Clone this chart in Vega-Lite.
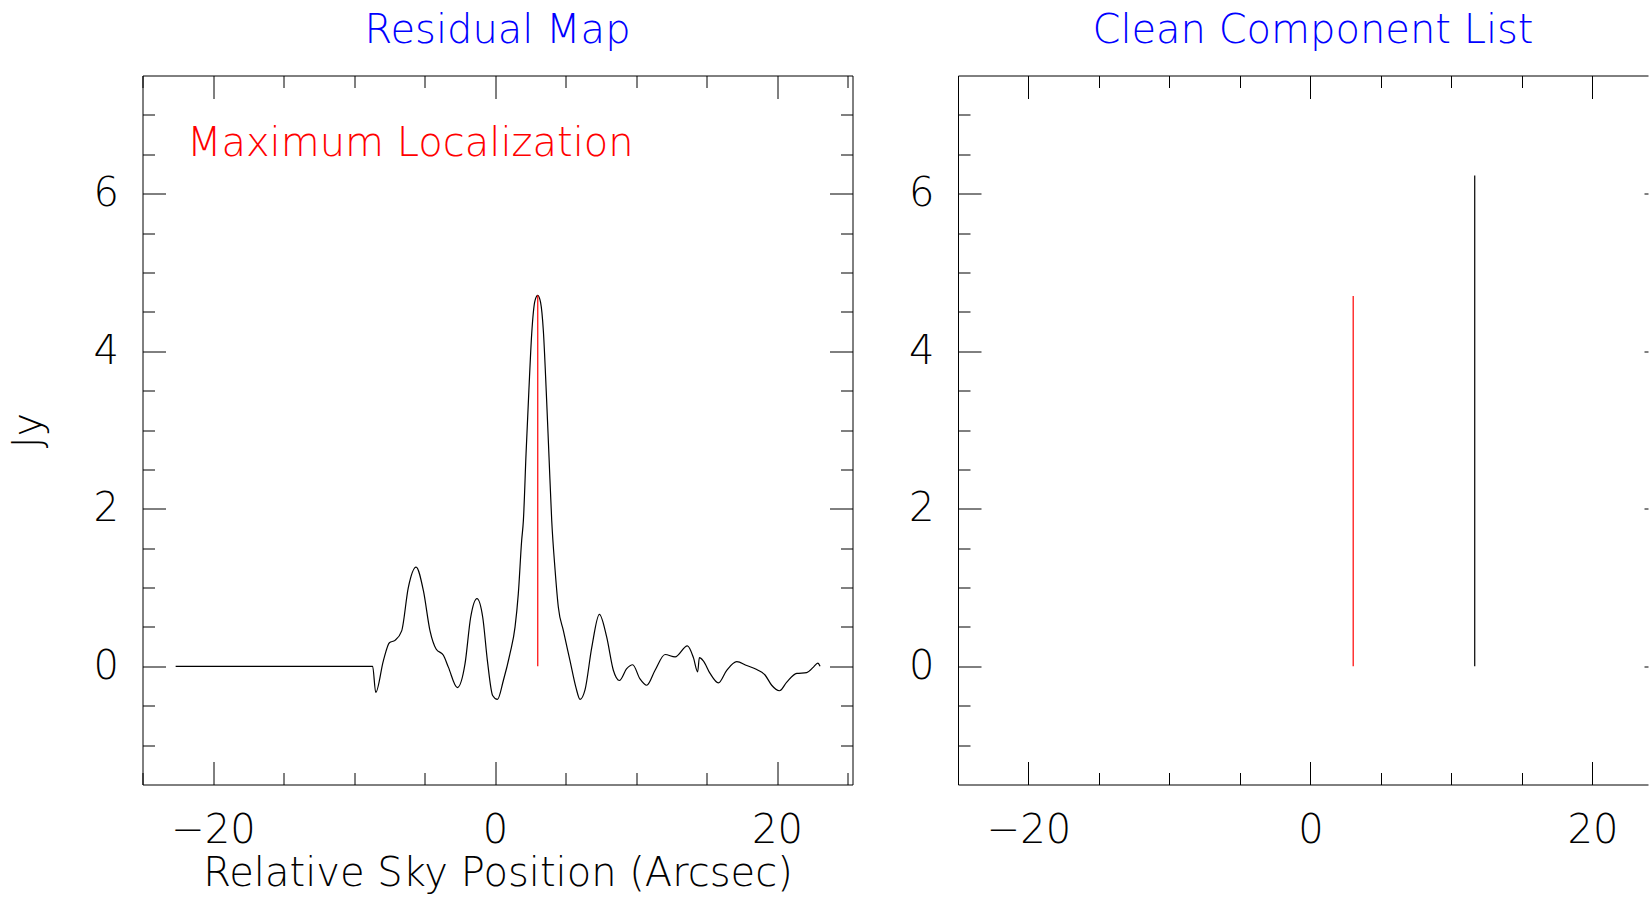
{
  "$schema": "https://vega.github.io/schema/vega-lite/v6.json",
  "background": "white",
  "padding": {"left": 7.5, "top": 10.5, "right": 0, "bottom": 0},
  "datasets": {
    "residual": [
      {"x": -22.65, "y": 0}, {"x": -8.68, "y": 0}, {"x": -8.46, "y": -0.33}, {"x": -7.92, "y": 0.07},
      {"x": -7.49, "y": 0.30}, {"x": -7.09, "y": 0.33}, {"x": -6.62, "y": 0.45}, {"x": -6.15, "y": 1.00},
      {"x": -5.60, "y": 1.26}, {"x": -5.08, "y": 0.96}, {"x": -4.61, "y": 0.45}, {"x": -4.18, "y": 0.22},
      {"x": -3.66, "y": 0.14}, {"x": -3.31, "y": -0.01}, {"x": -2.67, "y": -0.27}, {"x": -2.13, "y": 0.03},
      {"x": -1.73, "y": 0.62}, {"x": -1.28, "y": 0.86}, {"x": -0.87, "y": 0.62}, {"x": -0.54, "y": 0.07},
      {"x": -0.17, "y": -0.37}, {"x": 0.17, "y": -0.42}, {"x": 0.59, "y": -0.18}, {"x": 1.06, "y": 0.16},
      {"x": 1.42, "y": 0.50}, {"x": 1.65, "y": 0.92}, {"x": 1.89, "y": 1.60}, {"x": 2.01, "y": 1.85},
      {"x": 2.20, "y": 2.70}, {"x": 2.40, "y": 3.50}, {"x": 2.60, "y": 4.22}, {"x": 2.83, "y": 4.64},
      {"x": 3.03, "y": 4.71}, {"x": 3.23, "y": 4.62}, {"x": 3.43, "y": 4.25}, {"x": 3.63, "y": 3.50},
      {"x": 3.83, "y": 2.65}, {"x": 4.02, "y": 1.85}, {"x": 4.26, "y": 1.22}, {"x": 4.49, "y": 0.75},
      {"x": 4.85, "y": 0.45}, {"x": 5.32, "y": 0.07}, {"x": 5.74, "y": -0.27}, {"x": 6.03, "y": -0.42},
      {"x": 6.38, "y": -0.30}, {"x": 6.86, "y": 0.24}, {"x": 7.40, "y": 0.66}, {"x": 7.92, "y": 0.37},
      {"x": 8.39, "y": -0.05}, {"x": 8.82, "y": -0.18}, {"x": 9.34, "y": -0.03}, {"x": 9.76, "y": 0.02},
      {"x": 10.28, "y": -0.16}, {"x": 10.76, "y": -0.24}, {"x": 11.35, "y": -0.05}, {"x": 12.06, "y": 0.15},
      {"x": 12.77, "y": 0.12}, {"x": 13.64, "y": 0.26}, {"x": 14.07, "y": 0.11}, {"x": 14.37, "y": -0.07},
      {"x": 14.49, "y": 0.11}, {"x": 14.77, "y": 0.07}, {"x": 15.25, "y": -0.09}, {"x": 15.84, "y": -0.21},
      {"x": 16.43, "y": -0.05}, {"x": 17.14, "y": 0.06}, {"x": 17.85, "y": 0.01}, {"x": 18.56, "y": -0.04},
      {"x": 19.15, "y": -0.11}, {"x": 19.62, "y": -0.24}, {"x": 20.17, "y": -0.31}, {"x": 20.69, "y": -0.20},
      {"x": 21.40, "y": -0.09}, {"x": 22.10, "y": -0.08}, {"x": 22.58, "y": -0.01}, {"x": 22.89, "y": 0.04},
      {"x": 23.05, "y": 0.00}
    ],
    "peak": [{"x": 3.03, "y": 4.71}],
    "components": [
      {"x": 3.03, "y": 4.70, "kind": "Maximum Localization"},
      {"x": 11.65, "y": 6.23, "kind": "Clean Component"}
    ],
    "labels": [{"label": "Maximum Localization"}]
  },
  "config": {
    "view": {"stroke": null},
    "axis": {
      "grid": false, "labelFont": "DejaVu Sans", "labelFontWeight": 200, "labelFontSize": 40, "labelColor": "#000000",
      "titleFont": "DejaVu Sans", "titleFontWeight": 200, "titleFontSize": 40, "titleColor": "#000000",
      "domainColor": "#000000", "tickColor": "#000000", "domainWidth": 1, "tickWidth": 1,
      "labelFlush": false, "labelOverlap": false
    },
    "title": {"font": "DejaVu Sans", "fontWeight": 200, "fontSize": 40, "color": "#0000ff", "anchor": "middle"}
  },
  "bounds": "flush",
  "spacing": 105.5,
  "hconcat": [
    {
      "width": 710, "height": 709,
      "title": {"text": "Residual Map", "offset": 24},
      "resolve": {"axis": {"x": "independent", "y": "independent"}},
      "layer": [
        {
          "data": {"name": "residual"},
          "mark": {"type": "line", "color": "#000000", "strokeWidth": 1.2, "interpolate": "monotone"},
          "encoding": {
            "x": {"field": "x", "type": "quantitative", "scale": {"domain": [-25, 25.35], "nice": false, "zero": false},
                  "axis": {"orient": "bottom", "values": [-20, 0, 20], "ticks": false, "domain": true, "labelPadding": 26, "title": "Relative Sky Position (Arcsec)", "titlePadding": 3}},
            "y": {"field": "y", "type": "quantitative", "scale": {"domain": [-1.5, 7.5], "nice": false, "zero": false},
                  "axis": {"orient": "left", "values": [0, 2, 4, 6], "ticks": false, "domain": true, "labelPadding": 24, "title": "Jy", "titlePadding": 45}}
          }
        },
        {
          "data": {"name": "peak"},
          "mark": {"type": "rule", "color": "#ff0000", "strokeWidth": 1.2},
          "encoding": {
            "x": {"field": "x", "type": "quantitative", "axis": {"orient": "bottom", "values": [-20, 0, 20], "tickSize": -23, "labels": false, "domain": false, "title": null}},
            "y": {"field": "y", "type": "quantitative", "axis": {"orient": "left", "values": [0, 2, 4, 6], "tickSize": -23, "labels": false, "domain": false, "title": null}},
            "y2": {"datum": 0}
          }
        },
        {
          "data": {"name": "residual"},
          "mark": {"type": "line", "opacity": 0},
          "encoding": {
            "x": {"field": "x", "type": "quantitative", "axis": {"orient": "bottom", "values": [-25, -15, -10, -5, 5, 10, 15, 25], "tickSize": -12, "labels": false, "domain": false, "title": null}},
            "y": {"field": "y", "type": "quantitative", "axis": {"orient": "left", "values": [-1, -0.5, 0.5, 1, 1.5, 2.5, 3, 3.5, 4.5, 5, 5.5, 6.5, 7], "tickSize": -12, "labels": false, "domain": false, "title": null}}
          }
        },
        {
          "data": {"name": "residual"},
          "mark": {"type": "line", "opacity": 0},
          "encoding": {
            "x": {"field": "x", "type": "quantitative", "axis": {"orient": "top", "values": [-20, 0, 20], "tickSize": -23, "labels": false, "domain": true, "title": null}},
            "y": {"field": "y", "type": "quantitative", "axis": {"orient": "right", "values": [0, 2, 4, 6], "tickSize": -23, "labels": false, "domain": true, "title": null}}
          }
        },
        {
          "data": {"name": "residual"},
          "mark": {"type": "line", "opacity": 0},
          "encoding": {
            "x": {"field": "x", "type": "quantitative", "axis": {"orient": "top", "values": [-25, -15, -10, -5, 5, 10, 15, 25], "tickSize": -12, "labels": false, "domain": false, "title": null}},
            "y": {"field": "y", "type": "quantitative", "axis": {"orient": "right", "values": [-1, -0.5, 0.5, 1, 1.5, 2.5, 3, 3.5, 4.5, 5, 5.5, 6.5, 7], "tickSize": -12, "labels": false, "domain": false, "title": null}}
          }
        },
        {
          "data": {"name": "labels"},
          "mark": {"type": "text", "color": "#ff0000", "font": "DejaVu Sans", "fontWeight": 200, "fontSize": 40, "align": "left", "baseline": "alphabetic"},
          "encoding": {
            "x": {"datum": -21.85, "type": "quantitative", "axis": null},
            "y": {"datum": 6.48, "type": "quantitative", "axis": null},
            "text": {"field": "label"}
          }
        }
      ]
    },
    {
      "width": 690, "height": 709,
      "title": {"text": "Clean Component List", "offset": 24, "dx": 10},
      "resolve": {"axis": {"x": "independent", "y": "independent"}},
      "layer": [
        {
          "data": {"name": "components"},
          "mark": {"type": "rule", "strokeWidth": 1.2},
          "encoding": {
            "x": {"field": "x", "type": "quantitative", "scale": {"domain": [-25, 23.94], "nice": false, "zero": false},
                  "axis": {"orient": "bottom", "values": [-20, 0, 20], "ticks": false, "domain": true, "labelPadding": 26, "title": null}},
            "y": {"field": "y", "type": "quantitative", "scale": {"domain": [-1.5, 7.5], "nice": false, "zero": false},
                  "axis": {"orient": "left", "values": [0, 2, 4, 6], "ticks": false, "domain": true, "labelPadding": 24, "title": null}},
            "y2": {"datum": 0},
            "color": {"field": "kind", "type": "nominal", "scale": {"domain": ["Maximum Localization", "Clean Component"], "range": ["#ff0000", "#000000"]}, "legend": null}
          }
        },
        {
          "data": {"name": "components"},
          "mark": {"type": "rule", "opacity": 0},
          "encoding": {
            "x": {"field": "x", "type": "quantitative", "axis": {"orient": "bottom", "values": [-20, 0, 20], "tickSize": -23, "labels": false, "domain": false, "title": null}},
            "y": {"field": "y", "type": "quantitative", "axis": {"orient": "left", "values": [0, 2, 4, 6], "tickSize": -23, "labels": false, "domain": false, "title": null}}
          }
        },
        {
          "data": {"name": "components"},
          "mark": {"type": "rule", "opacity": 0},
          "encoding": {
            "x": {"field": "x", "type": "quantitative", "axis": {"orient": "bottom", "values": [-25, -15, -10, -5, 5, 10, 15], "tickSize": -12, "labels": false, "domain": false, "title": null}},
            "y": {"field": "y", "type": "quantitative", "axis": {"orient": "left", "values": [-1, -0.5, 0.5, 1, 1.5, 2.5, 3, 3.5, 4.5, 5, 5.5, 6.5, 7], "tickSize": -12, "labels": false, "domain": false, "title": null}}
          }
        },
        {
          "data": {"name": "components"},
          "mark": {"type": "rule", "opacity": 0},
          "encoding": {
            "x": {"field": "x", "type": "quantitative", "axis": {"orient": "top", "values": [-20, 0, 20], "tickSize": -23, "labels": false, "domain": true, "title": null}},
            "y": {"field": "y", "type": "quantitative", "axis": {"orient": "right", "values": [0, 2, 4, 6], "tickSize": -4, "labels": false, "domain": false, "title": null}}
          }
        },
        {
          "data": {"name": "components"},
          "mark": {"type": "rule", "opacity": 0},
          "encoding": {
            "x": {"field": "x", "type": "quantitative", "axis": {"orient": "top", "values": [-25, -15, -10, -5, 5, 10, 15], "tickSize": -12, "labels": false, "domain": false, "title": null}},
            "y": {"field": "y", "type": "quantitative", "axis": null}
          }
        }
      ]
    }
  ]
}
